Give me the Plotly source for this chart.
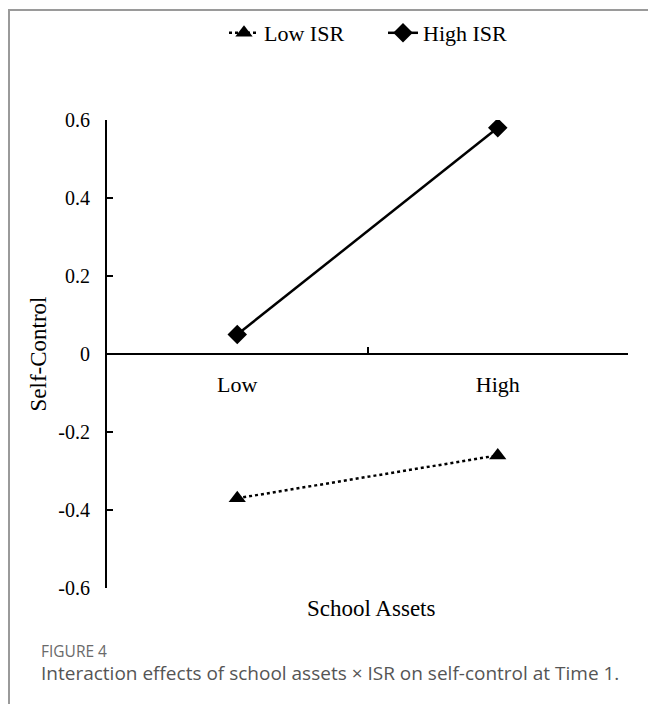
import plotly.graph_objects as go

categories = ["Low", "High"]
low_isr = [-0.37, -0.26]
high_isr = [0.05, 0.58]
y_ticks = [-0.6, -0.4, -0.2, 0, 0.2, 0.4, 0.6]
y_tick_labels = ["-0.6", "-0.4", "-0.2", "0", "0.2", "0.4", "0.6"]

W, H = 648, 704
L, R, T, B = 107, 20, 120, 116
PW, PH = W - L - R, H - T - B

def px_x(p):
    return (p - L) / PW

def px_y(p):
    return 1 - (p - T) / PH

serif = "Liberation Serif, Times New Roman, serif"
sans = "Open Sans, Noto Sans, sans-serif"

fig = go.Figure()
fig.add_trace(go.Scatter(
    x=categories, y=low_isr, name="Low ISR", mode="lines+markers",
    line=dict(color="black", width=2.5, dash="dot"),
    marker=dict(symbol="triangle-up", size=15, color="black"),
))
fig.add_trace(go.Scatter(
    x=categories, y=high_isr, name="High ISR", mode="lines+markers",
    line=dict(color="black", width=2.5),
    marker=dict(symbol="diamond", size=15, color="black"),
))

fig.update_layout(
    width=W, height=H,
    margin=dict(l=L, r=R, t=T, b=B, autoexpand=False),
    paper_bgcolor="white", plot_bgcolor="white",
    font=dict(family=serif, size=18, color="black"),
    showlegend=True,
    legend=dict(orientation="h", x=px_x(224), y=px_y(33), xanchor="left", yanchor="middle",
                font=dict(family=serif, size=22, color="black"),
                entrywidth=114, entrywidthmode="pixels",
                bgcolor="rgba(0,0,0,0)"),
    xaxis=dict(
        type="category", categoryorder="array", categoryarray=categories,
        tickson="boundaries", ticks="inside", ticklen=6, tickwidth=1.5, tickcolor="black",
        showline=True, linecolor="black", linewidth=2, showgrid=False, zeroline=False,
        anchor="free", position=0.5, range=[-0.5, 1.5], automargin=False,
        ticklabelstandoff=11, tickfont=dict(family=serif, size=22),
    ),
    yaxis=dict(
        range=[-0.6, 0.6], tickvals=y_ticks, ticktext=y_tick_labels,
        ticks="inside", ticklen=6, tickwidth=1.5, tickcolor="black",
        showline=True, linecolor="black", linewidth=2, showgrid=False, zeroline=False,
        ticklabelstandoff=11, tickfont=dict(family=serif, size=20), automargin=False,
        title=dict(text="Self-Control", font=dict(family=serif, size=23), standoff=5),
    ),
)

fig.add_annotation(text="School Assets", xref="paper", yref="paper",
                   x=px_x(371), y=px_y(608), showarrow=False,
                   font=dict(family=serif, size=23, color="black"),
                   xanchor="center", yanchor="middle")
fig.add_annotation(text="FIGURE 4", xref="paper", yref="paper",
                   x=px_x(39), y=px_y(651), showarrow=False,
                   font=dict(family=sans, size=15.5, color="#6a6a6a"),
                   xanchor="left", yanchor="middle")
fig.add_annotation(text="Interaction effects of school assets \u00d7 ISR on self-control at Time 1.",
                   xref="paper", yref="paper",
                   x=px_x(39), y=px_y(673), showarrow=False,
                   font=dict(family=sans, size=19, color="#555555"),
                   xanchor="left", yanchor="middle")

fig.add_shape(type="rect", xref="paper", yref="paper",
              x0=px_x(9), y0=px_y(720), x1=px_x(660), y1=px_y(10),
              line=dict(color="#9a9a9a", width=2), fillcolor="rgba(0,0,0,0)", layer="below")

fig.write_html("out.html", config={"displayModeBar": False},
               post_script="document.body.style.margin='0';document.body.style.overflow='hidden';")
